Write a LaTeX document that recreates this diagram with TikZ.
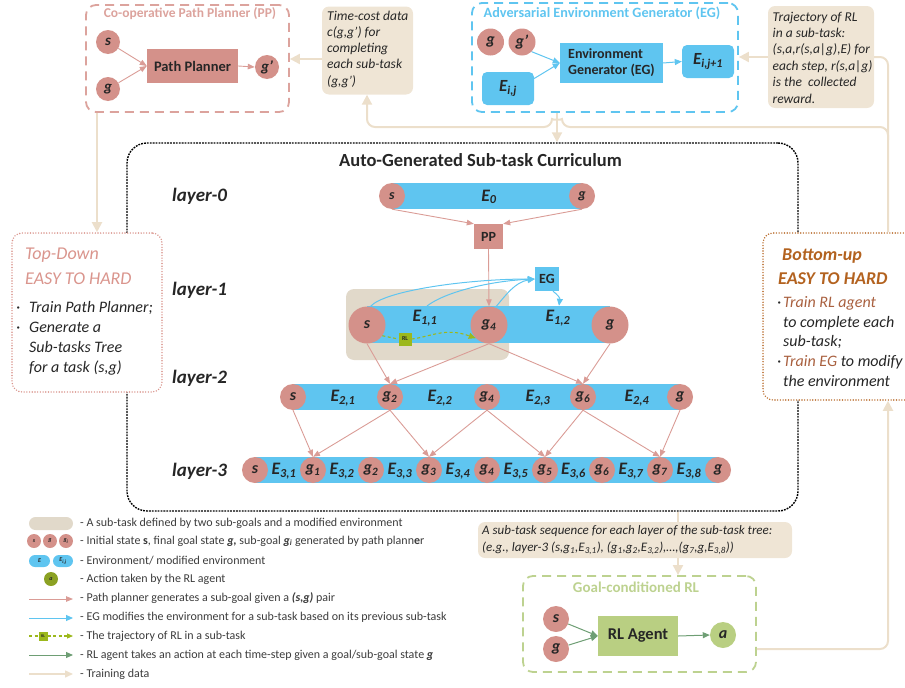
\documentclass[tikz,border=0pt]{standalone}
\usepackage{fontspec}
\setmainfont{Carlito}
\usetikzlibrary{arrows.meta,calc}

\definecolor{salmon}{HTML}{D4918A}
\definecolor{skyb}{HTML}{5FC5F0}
\definecolor{beige}{HTML}{EFE5D5}
\definecolor{hilite}{HTML}{E1D9CA}
\definecolor{tanl}{HTML}{ECDFCB}
\definecolor{pinkln}{HTML}{DA9C96}
\definecolor{ppdash}{HTML}{DCA39D}
\definecolor{olive}{HTML}{9CB81C}
\definecolor{gdash}{HTML}{BDD290}
\definecolor{rlfill}{HTML}{B9CF82}
\definecolor{dgreen}{HTML}{6E9E74}
\definecolor{brownd}{HTML}{B86A2A}
\definecolor{brownt}{HTML}{B3621F}
\definecolor{brownb}{HTML}{A9603F}
\definecolor{tdred}{HTML}{DA958D}
\definecolor{txt}{HTML}{262626}
\definecolor{legt}{HTML}{3C3C3C}

\newcommand{\fsz}[2]{\fontsize{#1}{#2}\selectfont}

\begin{document}
\begin{tikzpicture}[x=1pt,y=-1pt,
  every node/.style={text=txt},
  circ/.style={circle, fill=salmon, inner sep=0pt, minimum size=#1},
  bar/.style={rectangle, fill=skyb, inner sep=0pt},
  elab/.style={font=\fsz{17.5}{17.5}\bfseries\itshape, inner sep=0pt},
  lab/.style={font=\fsz{16}{16}\bfseries\itshape},
  pk/.style={draw=pinkln, line width=0.9pt, -{Triangle[length=7pt,width=5.5pt]}},
  bl/.style={draw=skyb, line width=1pt, -{Triangle[length=7pt,width=6pt]}},
  gr/.style={draw=dgreen, line width=1pt, -{Triangle[length=7pt,width=6pt]}},
  rld/.style={draw=olive, line width=1.1pt, dash pattern=on 3pt off 2.5pt},
  tr/.style={draw=tanl, line width=2pt, -{Triangle[length=10pt,width=10pt]}},
  trline/.style={draw=tanl, line width=2pt},
  databox/.style={fill=beige, rounded corners=7pt, inner sep=0pt},
  dashframe/.style={draw=#1, dash pattern=on 9pt off 6pt, line width=1.8pt, rounded corners=10pt, inner sep=0pt},
  dotframe/.style={draw=#1, line cap=round, dash pattern=on 0pt off 2.7pt, line width=1.6pt, rounded corners=10pt, inner sep=0pt, fill=white},
  boxtxt/.style={anchor=base west, inner sep=0pt, font=\fsz{13.5}{13.5}\itshape},
  legtxt/.style={anchor=west, inner sep=0pt, text=legt, font=\fsz{12}{12}},
  layer/.style={anchor=base west, inner sep=0pt, font=\fsz{19}{19}\bfseries\itshape},
  bullet/.style={anchor=base west, inner sep=0pt, font=\fsz{16}{16}\itshape},
]
\useasboundingbox (0,0) rectangle (905,688);
\clip (0,0) rectangle (905,688);

% ================= Co-operative Path Planner module =================
\node[dashframe=ppdash, minimum width=203pt, minimum height=107pt] (ppframe) at (187.5,58.5) {};
\node[font=\fsz{13.5}{13.5}\bfseries, text=ppdash] (pptitle) at (190,14) {Co-operative Path Planner (PP)};
\node[circ=24pt, font=\fsz{15}{15}\bfseries\itshape] (pps) at (108,42) {s};
\node[circ=24pt, font=\fsz{15}{15}\bfseries\itshape] (ppg) at (108,89) {g};
\node[fill=salmon, minimum width=91pt, minimum height=34pt, inner sep=0pt, font=\fsz{14.5}{14.5}\bfseries] (ppbox) at (192.5,66) {Path Planner};
\node[circ=24pt, font=\fsz{15}{15}\bfseries\itshape] (ppgp) at (267,67) {g’};
\draw[pk] (pps) -- (ppbox.west);
\draw[pk] (ppg) -- (ppbox.west);
\draw[pk] (ppbox.east) -- (ppgp.west);

% time-cost data
\node[databox, minimum width=91pt, minimum height=88pt] (tcbox) at (367.5,50.5) {};
\foreach \t [count=\i] in {{Time-cost data},{c(g,g’) for},{completing},{each sub-task},{(g,g’)}}
  \node[boxtxt] (tc\i) at (327,4.5+16.1*\i) {\t};

% ================= Adversarial Environment Generator module =================
\node[dashframe=skyb, minimum width=266pt, minimum height=109pt] (egframe) at (605,57.5) {};
\node[font=\fsz{14.2}{14.2}\bfseries, text=skyb] (egtitle) at (602,13) {Adversarial Environment Generator (EG)};
\node[circ=27pt, font=\fsz{16}{16}\bfseries\itshape] (egg) at (490.5,42) {g};
\node[circ=27pt, font=\fsz{16}{16}\bfseries\itshape] (eggp) at (522,42) {g’};
\node[fill=skyb, rounded corners=5pt, minimum width=52pt, minimum height=33pt, inner sep=0pt, font=\fsz{17}{17}\bfseries\itshape] (eij) at (508,88.5) {E\textsubscript{i,j}};
\node[fill=skyb, minimum width=103pt, minimum height=40pt, inner sep=0pt, align=left, font=\fsz{14}{16}\bfseries] (egbox) at (611.5,63) {Environment\\Generator (EG)};
\node[fill=skyb, rounded corners=5pt, minimum width=52pt, minimum height=33pt, inner sep=0pt, font=\fsz{17}{17}\bfseries\itshape] (eij1) at (708,61.5) {E\textsubscript{i,j+1}};
\draw[bl] (eggp.south east) -- (egbox.west);
\draw[bl] ($(eij.east)+(0,-10)$) -- (egbox.west);
\draw[bl] (egbox.east) -- (eij1.west);

% trajectory data
\node[databox, minimum width=106pt, minimum height=102pt] (tjbox) at (821,57) {};
\foreach \t [count=\i] in {{Trajectory of RL},{in a sub-task:},{(s,a,r(s,a|g),E) for},{each step, r(s,a|g)},{is the\ \ collected},{reward.}}
  \node[boxtxt] (tj\i) at (772.5,4.6+16.4*\i) {\t};

% ================= Auto-generated curriculum =================
\node[draw=black, dash pattern=on 1.8pt off 1.1pt, line width=1.4pt, rounded corners=20pt, minimum width=671pt, minimum height=368pt, inner sep=0pt] (curr) at (462.5,327) {};
\node[anchor=base, inner sep=0pt, font=\fsz{18.5}{18.5}\bfseries] (currtitle) at (480.5,166) {Auto-Generated Sub-task Curriculum};

% side boxes
\node[dotframe=tdred, minimum width=150pt, minimum height=159pt] (tdbox) at (87,312.5) {};
\node[anchor=base west, inner sep=0pt, font=\fsz{18}{18}\itshape, text=tdred] (td1) at (25,259) {Top-Down};
\node[anchor=base west, inner sep=0pt, font=\fsz{18}{18}\itshape, text=tdred] (td2) at (25,284) {EASY TO HARD};
\node[bullet] (td3) at (16,312) {\makebox[13pt][l]{·}Train Path Planner;};
\node[bullet] (td4) at (16,332.5) {\makebox[13pt][l]{·}Generate a};
\node[bullet] (td5) at (29,352.5) {Sub-tasks Tree};
\node[bullet] (td6) at (29,372) {for a task (s,g)};

\node[dotframe=brownd, minimum width=153pt, minimum height=167pt] (bubox) at (839.5,316.5) {};
\node[anchor=base west, inner sep=0pt, font=\fsz{18}{18}\bfseries\itshape, text=brownt] (bu1) at (782,260) {Bottom-up};
\node[anchor=base west, inner sep=0pt, font=\fsz{18}{18}\bfseries\itshape, text=brownt] (bu2) at (778,284) {EASY TO HARD};
\node[bullet] (bu3) at (777,307) {\makebox[6pt][l]{·}\textcolor{brownb}{Train RL agent}};
\node[bullet] (bu4) at (783,327) {to complete each};
\node[bullet] (bu5) at (783,346) {sub-task;};
\node[bullet] (bu6) at (777,366.5) {\makebox[6pt][l]{·}\textcolor{brownb}{Train EG} to modify};
\node[bullet] (bu7) at (783,386) {the environment};

% layer labels
\node[layer] (lay0) at (172,201) {layer-0};
\node[layer] (lay1) at (172,295) {layer-1};
\node[layer] (lay2) at (172,383) {layer-2};
\node[layer] (lay3) at (172,476) {layer-3};

% ---- layer 0
\node[bar, minimum width=190pt, minimum height=26pt] (bar0) at (487,196) {};
\node[circ=26pt, font=\fsz{14}{14}\bfseries\itshape] (l0s) at (392,196) {s};
\node[circ=26pt, font=\fsz{14}{14}\bfseries\itshape] (l0g) at (582,196) {g};
\node[elab] (e0) at (489,197) {E\textsubscript{0}};

\node[fill=salmon, minimum width=29pt, minimum height=25pt, inner sep=0pt, font=\fsz{14}{14}\bfseries] (ppn) at (488.5,236.5) {PP};
\node[fill=skyb, minimum size=24pt, inner sep=0pt, font=\fsz{14}{14}\bfseries] (egn) at (547,279) {EG};
\draw[pk] (l0s.south) -- (ppn.north west);
\draw[pk] (l0g.south) -- (ppn.north east);

% ---- layer 1
\node[fill=hilite, rounded corners=8pt, minimum width=163pt, minimum height=71pt, inner sep=0pt] (subtask) at (427.5,324.5) {};
\node[bar, minimum width=243pt, minimum height=37pt] (bar1) at (488.5,324.5) {};
\node[circ=37pt, lab] (l1s) at (367,325) {s};
\node[circ=37pt, lab] (l1g4) at (489,325) {g\textsubscript{4}};
\node[circ=37pt, lab] (l1g) at (610,325) {g};
\node[elab] (e11) at (425,318) {E\textsubscript{1,1}};
\node[elab] (e12) at (558,318) {E\textsubscript{1,2}};
\draw[pk] (ppn.south) -- (l1g4.north);

\coordinate (e11top) at (427,306);
\draw[bl] (l1s.80) .. controls (385,290) and (470,279) .. (egn.west);
\draw[bl] (e11top) .. controls (445,292) and (490,281) .. (egn.west);
\draw[bl] (l1g4.70) .. controls (505,296) and (515,282) .. (egn.west);
\draw[bl] ($(egn.south)+(6,0)$) .. controls (558,295) and (560,298) .. (bar1.north -| 559,0);

\node[fill=olive, minimum size=13pt, inner sep=0pt, font=\fsz{6}{6}\bfseries] (rl1) at (405,339) {RL};
\draw[rld] (l1s.-35) -- (rl1.west);
\draw[rld, -{Triangle[length=7pt,width=6pt]}] (rl1.east) .. controls (430,337) and (445,327) .. (l1g4.225);

% ---- layer 2
\node[bar, minimum width=387pt, minimum height=26pt] (bar2) at (486.5,397) {};
\foreach \x/\n/\t in {293/l2s/s, 390/l2g2/g\textsubscript{2}, 487/l2g4/g\textsubscript{4}, 583/l2g6/g\textsubscript{6}, 680/l2g/g}
  \node[circ=26pt, lab] (\n) at (\x,397) {\t};
\foreach \x/\k in {343/1, 440/2, 538/3, 637/4}
  \node[elab] (e2\k) at (\x,398) {E\textsubscript{2,\k}};
\draw[pk] (l1s.south) -- (l2g2.north);
\draw[pk] (l1g4.south) -- (l2g2.north);
\draw[pk] (l1g4.south) -- (l2g6.north);
\draw[pk] (l1g.south) -- (l2g6.north);

% ---- layer 3
\node[bar, minimum width=463pt, minimum height=26pt] (bar3) at (486.5,470) {};
\foreach \x/\n/\t in {255/l3s/s, 313/l3g1/g\textsubscript{1}, 371/l3g2/g\textsubscript{2}, 429/l3g3/g\textsubscript{3}, 487/l3g4/g\textsubscript{4}, 545/l3g5/g\textsubscript{5}, 602/l3g6/g\textsubscript{6}, 660/l3g7/g\textsubscript{7}, 718/l3g/g}
  \node[circ=26pt, lab] (\n) at (\x,470) {\t};
\foreach \x/\k in {284/1, 342/2, 400/3, 458/4, 516/5, 573.5/6, 631/7, 689/8}
  \node[elab] (e3\k) at (\x,471) {E\textsubscript{3,\k}};
\draw[pk] (l2s.south) -- (l3g1.north);
\draw[pk] (l2g2.south) -- (l3g1.north);
\draw[pk] (l2g2.south) -- (l3g3.north);
\draw[pk] (l2g4.south) -- (l3g3.north);
\draw[pk] (l2g4.south) -- (l3g5.north);
\draw[pk] (l2g6.south) -- (l3g5.north);
\draw[pk] (l2g6.south) -- (l3g7.north);
\draw[pk] (l2g.south) -- (l3g7.north);

% ================= sub-task sequence and goal-conditioned RL =================
\node[databox, minimum width=314pt, minimum height=36pt] (seqbox) at (635,540) {};
\node[anchor=base west, inner sep=0pt, font=\fsz{13}{13}\itshape] (seq1) at (482,534.5) {A sub-task sequence for each layer of the sub-task tree:};
\node[anchor=base west, inner sep=0pt, font=\fsz{13}{13}\itshape] (seq2) at (482,551.5) {(e.g., layer-3 (s,g\textsubscript{1},E\textsubscript{3,1}), (g\textsubscript{1},g\textsubscript{2},E\textsubscript{3,2}),…,(g\textsubscript{7},g,E\textsubscript{3,8}))};

\node[dashframe=gdash, minimum width=233pt, minimum height=96pt] (glframe) at (639.5,624) {};
\node[font=\fsz{15}{15}\bfseries, text=gdash] (gltitle) at (636,587) {Goal-conditioned RL};
\node[circ=26pt, font=\fsz{16}{16}\bfseries\itshape] (gls) at (556,619) {s};
\node[circ=26pt, font=\fsz{16}{16}\bfseries\itshape] (glg) at (556,649) {g};
\node[fill=rlfill, minimum width=80pt, minimum height=40pt, inner sep=0pt, font=\fsz{16.5}{16.5}\bfseries] (agent) at (638,636) {RL Agent};
\node[circ=26pt, fill=rlfill, font=\fsz{16}{16}\bfseries\itshape] (gla) at (723,635) {a};
\draw[gr] (gls) -- (agent.west);
\draw[gr] (glg) -- (agent.west);
\draw[gr] (agent.east) -- (gla.west);

% ================= training-data connectors =================
\draw[tr] (ppframe.south -| 97,0) -- (tdbox.north -| 97,0);
\draw[tr] (tcbox.west |- 0,59) -- (ppframe.east |- 0,59);
\draw[tr] (tjbox.west) -- (egframe.east |- tjbox.west);
\draw[trline, rounded corners=8pt] (tjbox.east) -- (888,57) -- (888,140);
\draw[tr, rounded corners=8pt] (bubox.north -| 888,0) -- (888,127) -- (562,127)
  .. controls (562,120) and (552,120) .. (552,127) -- (367,127) -- (tcbox.south -| 367,0);
\draw[tr] (egframe.south -| 557,0) -- (curr.north -| 557,0);
\draw[trline] (curr.south -| 678,0) -- (seqbox.north -| 678,0);
\draw[tr] (seqbox.south -| 678,0) -- (glframe.north -| 678,0);
\draw[tr, rounded corners=8pt] (glframe.east |- 0,649) -- (888,649) -- (bubox.south -| 888,0);

% ================= legend =================
\node[fill=hilite, rounded corners=6.5pt, minimum width=44pt, minimum height=13pt, inner sep=0pt] (lg1) at (51,523.5) {};
\node[legtxt] (lt1) at (80,523.5) {- A sub-task defined by two sub-goals and a modified environment};

\node[circ=14pt, font=\fsz{6}{6}\bfseries\itshape] (lg2a) at (34,541) {s};
\node[circ=14pt, font=\fsz{6}{6}\bfseries\itshape] (lg2b) at (50,541) {g};
\node[circ=14pt, font=\fsz{6}{6}\bfseries\itshape] (lg2c) at (66,541) {g\textsubscript{i}};
\node[legtxt] (lt2) at (80,541) {- Initial state \textbf{s}, final goal state \textbf{\textit{g,}} sub-goal \textbf{\textit{g\textsubscript{i}}} generated by path plann\textbf{e}r};

\node[fill=skyb, rounded corners=6pt, minimum width=21pt, minimum height=12pt, inner sep=0pt, font=\fsz{6}{6}\bfseries\itshape] (lg3a) at (39.5,561) {E};
\node[fill=skyb, rounded corners=6pt, minimum width=20pt, minimum height=12pt, inner sep=0pt, font=\fsz{6}{6}\bfseries\itshape] (lg3b) at (63,561) {E\textsubscript{i,j}};
\node[legtxt] (lt3) at (80,560.5) {- Environment/ modified environment};

\node[circle, fill=olive!85!black!95, minimum size=14pt, inner sep=0pt, font=\fsz{6}{6}\bfseries\itshape] (lg4) at (51,579) {a};
\node[legtxt] (lt4) at (80,579) {- Action taken by the RL agent};

\coordinate (lg5a) at (29,599); \coordinate (lg5b) at (73,599);
\draw[pk] (lg5a) -- (lg5b);
\node[legtxt] (lt5) at (80,598.5) {- Path planner generates a sub-goal given a \textbf{\textit{(s,g)}} pair};

\coordinate (lg6a) at (29,618); \coordinate (lg6b) at (73,618);
\draw[bl] (lg6a) -- (lg6b);
\node[legtxt] (lt6) at (80,617.5) {- EG modifies the environment for a sub-task based on its previous sub-task};

\coordinate (lg7a) at (29,636); \coordinate (lg7b) at (73,636);
\node[fill=olive, minimum size=9pt, inner sep=0pt, font=\fsz{4}{4}\bfseries] (lg7rl) at (43,636) {RL};
\draw[rld] (lg7a) -- (lg7rl.west);
\draw[rld, -{Triangle[length=6pt,width=5pt]}] (lg7rl.east) -- (lg7b);
\node[legtxt] (lt7) at (80,636) {- The trajectory of RL in a sub-task};

\coordinate (lg8a) at (29,655); \coordinate (lg8b) at (73,655);
\draw[gr] (lg8a) -- (lg8b);
\node[legtxt] (lt8) at (80,655) {- RL agent takes an action at each time-step given a goal/sub-goal state \textbf{\textit{g}}};

\coordinate (lg9a) at (29,674); \coordinate (lg9b) at (73,674);
\draw[draw=tanl, line width=1.5pt, -{Triangle[length=8pt,width=7pt]}] (lg9a) -- (lg9b);
\node[legtxt] (lt9) at (80,674) {- Training data};

\end{tikzpicture}
\end{document}
